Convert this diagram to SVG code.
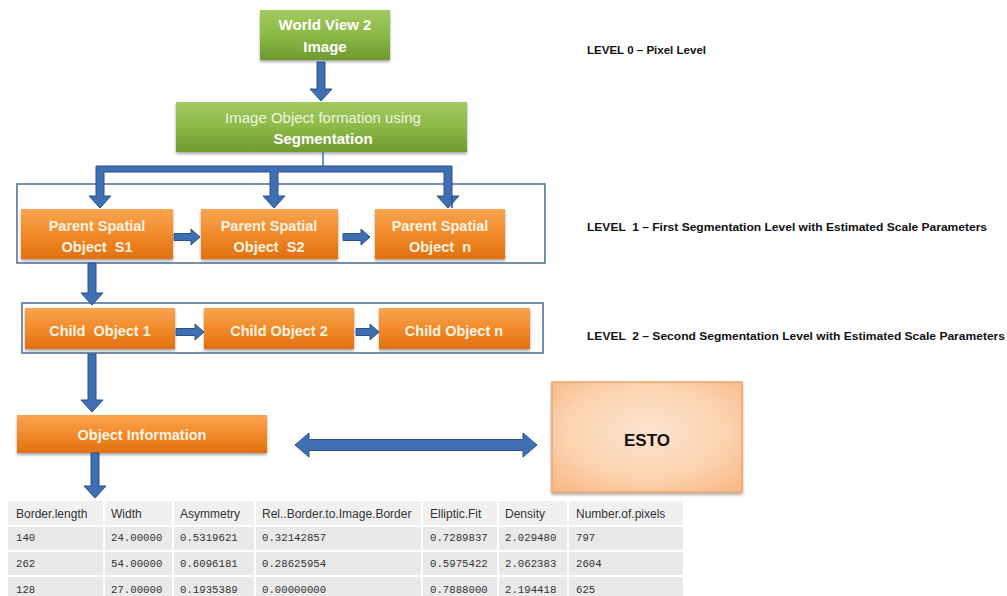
<svg xmlns="http://www.w3.org/2000/svg" width="1007" height="596" viewBox="0 0 1007 596">
<defs>
<linearGradient id="gGreen" x1="0" y1="0" x2="0" y2="1">
<stop offset="0" stop-color="#a3c95f"/><stop offset="0.5" stop-color="#8cb947"/><stop offset="1" stop-color="#6f9a30"/>
</linearGradient>
<linearGradient id="gOrange" x1="0" y1="0" x2="0" y2="1">
<stop offset="0" stop-color="#f9a550"/><stop offset="0.5" stop-color="#f18a2a"/><stop offset="1" stop-color="#e2700e"/>
</linearGradient>
<radialGradient id="gPeach" cx="0.5" cy="0.45" r="0.7">
<stop offset="0" stop-color="#fde4cf"/><stop offset="0.6" stop-color="#fcd3b0"/><stop offset="1" stop-color="#f8b986"/>
</radialGradient>
<filter id="sh" x="-10%" y="-20%" width="120%" height="150%">
<feDropShadow dx="0" dy="2" stdDeviation="1.8" flood-color="#000" flood-opacity="0.35"/>
</filter>
<style>
.green{fill:url(#gGreen);filter:url(#sh)}
.orange{fill:url(#gOrange);filter:url(#sh)}
.frame{fill:none;stroke:#4d6a93;stroke-width:1.5}
.arrow{fill:#3f6fb3;stroke:#2b5189;stroke-width:1}
.bt{font-family:"Liberation Sans",Arial,sans-serif;font-weight:bold;font-size:15px;fill:#ffffff;text-anchor:middle}
.ot{font-family:"Liberation Sans",Arial,sans-serif;font-weight:bold;font-size:14.5px;fill:#fff4e2;text-anchor:middle}
.lv{font-family:"Liberation Sans",Arial,sans-serif;font-weight:bold;font-size:11.5px;fill:#111;white-space:pre}
.th{font-family:"Liberation Sans",Arial,sans-serif;font-size:12px;fill:#333}
.td{font-family:"Liberation Mono","DejaVu Sans Mono",monospace;font-size:10.7px;fill:#333}
.hc{fill:#f0f0f0}
.dc{fill:#e9e9e9}
</style>
</defs>
<rect width="1007" height="596" fill="#ffffff"/>

<g id="frames">
<rect class="frame" x="17" y="184" width="528" height="79"/>
<rect class="frame" x="22" y="303" width="521" height="50"/>
</g>

<g id="worldview">
<rect class="green" x="260" y="10" width="130" height="50"/>
<text class="bt" x="325" y="30">World View 2</text>
<text class="bt" x="325" y="52">Image</text>
</g>

<g id="segmentation">
<rect class="green" x="176" y="102" width="291" height="50"/>
<text class="bt" x="323" y="123" style="font-weight:normal;fill:#eef5e0">Image Object formation using</text>
<text class="bt" x="323" y="144">Segmentation</text>
</g>

<g id="parentS1">
<rect class="orange" x="21" y="209" width="152" height="50"/>
<text class="ot" x="97" y="231">Parent Spatial</text>
<text class="ot" x="97" y="252" style="white-space:pre">Object  S1</text>
</g>
<g id="parentS2">
<rect class="orange" x="201" y="209" width="137" height="50"/>
<text class="ot" x="269" y="231">Parent Spatial</text>
<text class="ot" x="269" y="252" style="white-space:pre">Object  S2</text>
</g>
<g id="parentN">
<rect class="orange" x="375" y="209" width="130" height="50"/>
<text class="ot" x="440" y="231">Parent Spatial</text>
<text class="ot" x="440" y="252" style="white-space:pre">Object  n</text>
</g>

<g id="child1">
<rect class="orange" x="25" y="308" width="150" height="41"/>
<text class="ot" x="100" y="336" style="white-space:pre">Child  Object 1</text>
</g>
<g id="child2">
<rect class="orange" x="204" y="308" width="150" height="41"/>
<text class="ot" x="279" y="336">Child Object 2</text>
</g>
<g id="childN">
<rect class="orange" x="379" y="308" width="151" height="41"/>
<text class="ot" x="454" y="336">Child Object n</text>
</g>

<g id="objectinfo">
<rect class="orange" x="17" y="415" width="250" height="38"/>
<text class="ot" x="142" y="440">Object Information</text>
</g>

<g id="esto">
<rect x="552" y="382" width="190" height="110" fill="url(#gPeach)" stroke="#f0a766" stroke-width="1.5" filter="url(#sh)"/>
<text x="647" y="446" text-anchor="middle" font-family="Liberation Sans,Arial,sans-serif" font-weight="bold" font-size="17" fill="#111">ESTO</text>
</g>

<g id="levels">
<text class="lv" x="587" y="54" textLength="119" lengthAdjust="spacingAndGlyphs">LEVEL 0 – Pixel Level</text>
<text class="lv" x="587" y="231" textLength="400" lengthAdjust="spacingAndGlyphs">LEVEL  1 – First Segmentation Level with Estimated Scale Parameters</text>
<text class="lv" x="587" y="340" textLength="418" lengthAdjust="spacingAndGlyphs">LEVEL  2 – Second Segmentation Level with Estimated Scale Parameters</text>
</g>

<g id="connectors">
<path class="arrow" d="M317,62 H325 V89 H332 L321,101 L310,89 H317 Z"/>
<line x1="323" y1="152" x2="323" y2="167" stroke="#3f6fb3" stroke-width="1.5"/>
<path class="arrow" d="M96,166 H452 V208 L452,196 H459 L448,208 L437,196 H444 V172 H278 V196 H285 L274,208 L263,196 H270 V172 H104 V196 H111 L100,208 L89,196 H96 Z" style="stroke-linejoin:miter"/>
<path class="arrow" d="M174,233.5 H191 V229 L200,237 L191,245 V240.5 H174 Z"/>
<path class="arrow" d="M343,233.5 H361 V229 L370,237 L361,245 V240.5 H343 Z"/>
<path class="arrow" d="M88,263 H96 V293 H103 L92,305 L81,293 H88 Z"/>
<path class="arrow" d="M176,328.5 H195 V324 L204,332 L195,340 V335.5 H176 Z"/>
<path class="arrow" d="M356,328.5 H370 V324 L379,332 L370,340 V335.5 H356 Z"/>
<path class="arrow" d="M88,354 H96 V400 H103 L92,412 L81,400 H88 Z"/>
<path class="arrow" d="M91,453 H99 V486 H106 L95,498 L84,486 H91 Z"/>
<path class="arrow" d="M295,445 L309,433 V439.5 H523 V433 L537,445 L523,457 V450.5 H309 V457 Z"/>
</g>

<g id="table">
<g id="header">
<rect class="hc" x="8" y="501" width="95" height="24"/>
<rect class="hc" x="105" y="501" width="67" height="24"/>
<rect class="hc" x="174" y="501" width="80" height="24"/>
<rect class="hc" x="256" y="501" width="165" height="24"/>
<rect class="hc" x="423" y="501" width="74" height="24"/>
<rect class="hc" x="499" y="501" width="68" height="24"/>
<rect class="hc" x="569" y="501" width="114" height="24"/>
<text class="th" x="16" y="518">Border.length</text>
<text class="th" x="111" y="518">Width</text>
<text class="th" x="180" y="518">Asymmetry</text>
<text class="th" x="262" y="518">Rel..Border.to.Image.Border</text>
<text class="th" x="430" y="518">Elliptic.Fit</text>
<text class="th" x="505" y="518">Density</text>
<text class="th" x="576" y="518">Number.of.pixels</text>
</g>
<g id="rows">
<rect class="dc" x="8" y="527" width="95" height="23"/>
<rect class="dc" x="105" y="527" width="67" height="23"/>
<rect class="dc" x="174" y="527" width="80" height="23"/>
<rect class="dc" x="256" y="527" width="165" height="23"/>
<rect class="dc" x="423" y="527" width="74" height="23"/>
<rect class="dc" x="499" y="527" width="68" height="23"/>
<rect class="dc" x="569" y="527" width="114" height="23"/>
<rect class="dc" x="8" y="552" width="95" height="23"/>
<rect class="dc" x="105" y="552" width="67" height="23"/>
<rect class="dc" x="174" y="552" width="80" height="23"/>
<rect class="dc" x="256" y="552" width="165" height="23"/>
<rect class="dc" x="423" y="552" width="74" height="23"/>
<rect class="dc" x="499" y="552" width="68" height="23"/>
<rect class="dc" x="569" y="552" width="114" height="23"/>
<rect class="dc" x="8" y="577" width="95" height="19"/>
<rect class="dc" x="105" y="577" width="67" height="19"/>
<rect class="dc" x="174" y="577" width="80" height="19"/>
<rect class="dc" x="256" y="577" width="165" height="19"/>
<rect class="dc" x="423" y="577" width="74" height="19"/>
<rect class="dc" x="499" y="577" width="68" height="19"/>
<rect class="dc" x="569" y="577" width="114" height="19"/>
<text class="td" x="16" y="541">140</text>
<text class="td" x="111" y="541">24.00000</text>
<text class="td" x="180" y="541">0.5319621</text>
<text class="td" x="262" y="541">0.32142857</text>
<text class="td" x="430" y="541">0.7289837</text>
<text class="td" x="505" y="541">2.029480</text>
<text class="td" x="576" y="541">797</text>
<text class="td" x="16" y="567">262</text>
<text class="td" x="111" y="567">54.00000</text>
<text class="td" x="180" y="567">0.6096181</text>
<text class="td" x="262" y="567">0.28625954</text>
<text class="td" x="430" y="567">0.5975422</text>
<text class="td" x="505" y="567">2.062383</text>
<text class="td" x="576" y="567">2604</text>
<text class="td" x="16" y="593">128</text>
<text class="td" x="111" y="593">27.00000</text>
<text class="td" x="180" y="593">0.1935389</text>
<text class="td" x="262" y="593">0.00000000</text>
<text class="td" x="430" y="593">0.7888000</text>
<text class="td" x="505" y="593">2.194418</text>
<text class="td" x="576" y="593">625</text>
</g>
</g>
</svg>
